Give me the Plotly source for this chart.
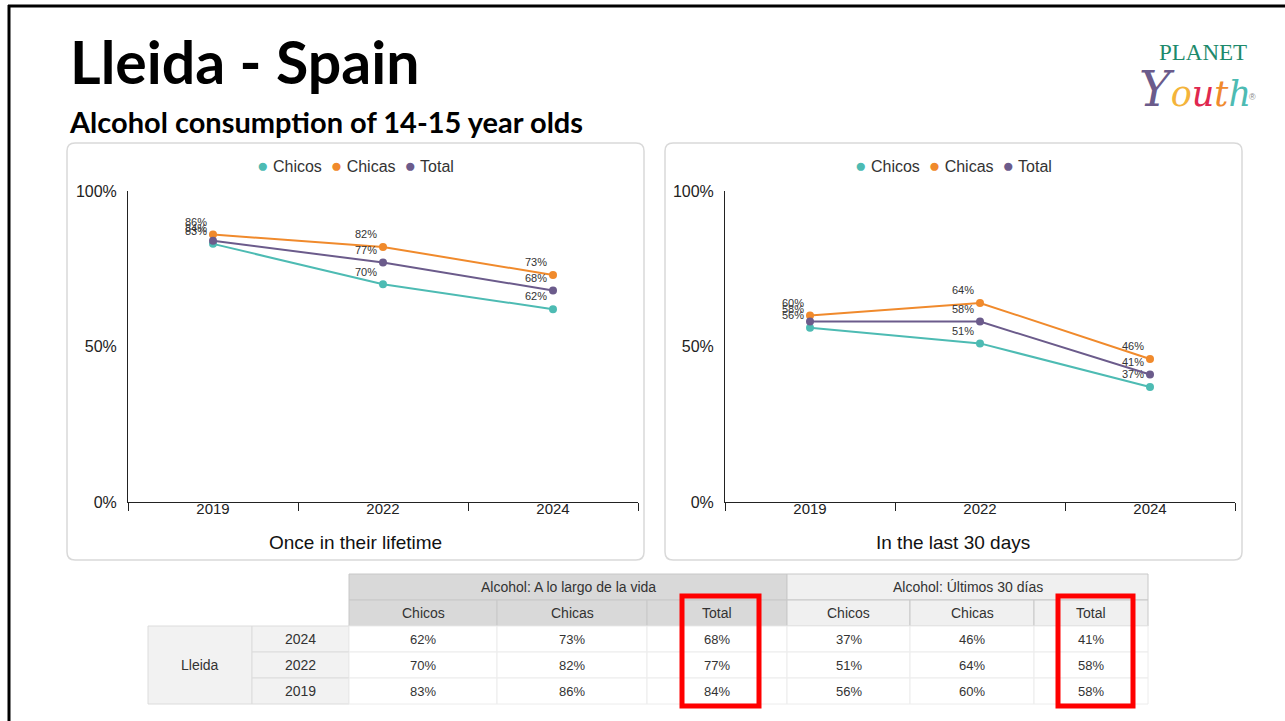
import plotly.graph_objects as go

# ---------------- data ----------------
years = ["2019", "2022", "2024"]
life_chicos = [83, 70, 62]
life_chicas = [86, 82, 73]
life_total = [84, 77, 68]
m30_chicos = [56, 51, 37]
m30_chicas = [60, 64, 46]
m30_total = [58, 58, 41]
series_names = ["Chicos", "Chicas", "Total"]
y_ticks = [0, 50, 100]
panel_titles = ["Once in their lifetime", "In the last 30 days"]
table_groups = ["Alcohol: A lo largo de la vida", "Alcohol: Últimos 30 días"]
table_region = "Lleida"
table_years = ["2024", "2022", "2019"]
title_text = "Lleida - Spain"
subtitle_text = "Alcohol consumption of 14-15 year olds"

# ---------------- styles ----------------
W, H = 1285, 721
COLORS = {"Chicos": "#4dbbb3", "Chicas": "#f08a2c", "Total": "#6b5b8b"}
FONT = "Liberation Sans, Arial, sans-serif"


def fx(px):
    return px / W


def fy(py):
    return 1 - py / H


fig = go.Figure()

panels = [
    dict(series=[life_chicos, life_chicas, life_total], xa="x", ya="y",
         box=(67, 644), center=355),
    dict(series=[m30_chicos, m30_chicas, m30_total], xa="x2", ya="y2",
         box=(665, 1242), center=953),
]

shapes = []
annotations = []


def rounded_box(x0, y0, x1, y1, r=8):
    p = (f"M {fx(x0 + r)},{fy(y0)} L {fx(x1 - r)},{fy(y0)} Q {fx(x1)},{fy(y0)} {fx(x1)},{fy(y0 + r)} "
         f"L {fx(x1)},{fy(y1 - r)} Q {fx(x1)},{fy(y1)} {fx(x1 - r)},{fy(y1)} "
         f"L {fx(x0 + r)},{fy(y1)} Q {fx(x0)},{fy(y1)} {fx(x0)},{fy(y1 - r)} "
         f"L {fx(x0)},{fy(y0 + r)} Q {fx(x0)},{fy(y0)} {fx(x0 + r)},{fy(y0)} Z")
    return dict(type="path", path=p, xref="paper", yref="paper",
                line=dict(color="#d9d9d9", width=1.5), fillcolor="white", layer="below")


legend_html = "&nbsp;&nbsp;".join(
    f"<span style='color:{COLORS[n]};font-size:19px'>●</span> {n}" for n in series_names)

for i, pn in enumerate(panels):
    for name, vals in zip(series_names, pn["series"]):
        fig.add_trace(go.Scatter(
            x=years, y=vals, mode="lines+markers+text", name=name,
            line=dict(color=COLORS[name], width=2),
            marker=dict(color=COLORS[name], size=8),
            text=[f"{v}%" for v in vals], textposition="top left",
            textfont=dict(family=FONT, size=11, color="#333"),
            xaxis=pn["xa"], yaxis=pn["ya"], showlegend=False, hoverinfo="skip"))
    shapes.append(rounded_box(pn["box"][0], 143, pn["box"][1], 560))
    annotations.append(dict(text=legend_html, x=fx(pn["center"]), y=fy(165),
                            xref="paper", yref="paper", xanchor="center", yanchor="middle",
                            showarrow=False, font=dict(family=FONT, size=16, color="#333")))
    annotations.append(dict(text=panel_titles[i], x=fx(pn["center"]), y=fy(542),
                            xref="paper", yref="paper", xanchor="center", yanchor="middle",
                            showarrow=False, font=dict(family=FONT, size=19, color="#111")))

axis_common_x = dict(type="category", range=[-0.5, 2.5], showline=True, linecolor="#222",
                     linewidth=1, ticks="outside", ticklen=8, tickcolor="#222",
                     tickson="boundaries", showgrid=False, zeroline=False, automargin=False,
                     tickfont=dict(family=FONT, size=15, color="#222"), ticklabelstandoff=-7,
                     fixedrange=True)
axis_common_y = dict(range=[0, 100], tickvals=y_ticks, ticktext=[f"{v}%" for v in y_ticks],
                     showline=True, linecolor="#222", linewidth=1, ticks="", showgrid=False,
                     zeroline=False, automargin=False,
                     tickfont=dict(family=FONT, size=16, color="#222"),
                     ticklabelstandoff=7, fixedrange=True)

fig.update_layout(
    xaxis=dict(domain=[fx(128), fx(638)], anchor="y", **axis_common_x),
    yaxis=dict(domain=[fy(502), fy(191)], anchor="x", **axis_common_y),
    xaxis2=dict(domain=[fx(725), fx(1235)], anchor="y2", **axis_common_x),
    yaxis2=dict(domain=[fy(502), fy(191)], anchor="x2", **axis_common_y),
    showlegend=False,
)

# ---------------- table ----------------
cols_x = [148, 252, 349, 497, 647, 787, 910, 1034, 1148]
rows_y = [574, 600, 626, 652, 678, 704]


def cell(x0, x1, y0, y1, fill, line, text, size=13):
    shapes.append(dict(type="rect", xref="paper", yref="paper", x0=fx(x0), x1=fx(x1),
                       y0=fy(y1), y1=fy(y0), fillcolor=fill, line=dict(color=line, width=1),
                       layer="below"))
    if text:
        annotations.append(dict(text=text, x=fx((x0 + x1) / 2), y=fy((y0 + y1) / 2),
                                xref="paper", yref="paper", xanchor="center",
                                yanchor="middle", showarrow=False,
                                font=dict(family=FONT, size=size, color="#333")))


group_fills = ["#d9d9d9", "#f0f0f0"]
group_cols = [(2, 5), (5, 8)]
group_data = [[life_chicos, life_chicas, life_total], [m30_chicos, m30_chicas, m30_total]]

for g, (c0, c1) in enumerate(group_cols):
    cell(cols_x[c0], cols_x[c1], rows_y[0], rows_y[1], group_fills[g], "#c8c8c8",
         table_groups[g], size=14)
    for k in range(3):
        cell(cols_x[c0 + k], cols_x[c0 + k + 1], rows_y[1], rows_y[2], group_fills[g],
             "#c8c8c8", series_names[k], size=14)

cell(cols_x[0], cols_x[1], rows_y[2], rows_y[5], "#f2f2f2", "#dcdcdc", table_region, size=14)
for r, yr in enumerate(table_years):
    cell(cols_x[1], cols_x[2], rows_y[2 + r], rows_y[3 + r], "#f2f2f2", "#dcdcdc", yr, size=14)
    idx = years.index(yr)
    for g, (c0, c1) in enumerate(group_cols):
        for k in range(3):
            cell(cols_x[c0 + k], cols_x[c0 + k + 1], rows_y[2 + r], rows_y[3 + r], "white",
                 "#ececec", f"{group_data[g][k][idx]}%")

# red highlight frames
for (x0, x1) in [(682, 759), (1058, 1133)]:
    shapes.append(dict(type="rect", xref="paper", yref="paper", x0=fx(x0), x1=fx(x1),
                       y0=fy(706), y1=fy(596), line=dict(color="#ff0000", width=5),
                       fillcolor="rgba(0,0,0,0)", layer="above"))

# slide border
shapes.append(dict(type="line", xref="paper", yref="paper", x0=fx(8), x1=1, y0=fy(6), y1=fy(6),
                   line=dict(color="black", width=3)))
shapes.append(dict(type="line", xref="paper", yref="paper", x0=fx(9), x1=fx(9), y0=fy(5), y1=0,
                   line=dict(color="black", width=3)))

# titles
annotations.append(dict(text=title_text, x=fx(68), y=fy(62), xref="paper", yref="paper",
                        xanchor="left", yanchor="middle", showarrow=False,
                        font=dict(family="Lato, Open Sans, sans-serif", size=59, color="black",
                                  weight=700)))
annotations.append(dict(text=subtitle_text, x=fx(67), y=fy(121), xref="paper", yref="paper",
                        xanchor="left", yanchor="middle", showarrow=False,
                        font=dict(family="Lato, Open Sans, sans-serif", size=29, color="black",
                                  weight=700)))

# logo
annotations.append(dict(text="PLANET", x=fx(1203), y=fy(53), xref="paper", yref="paper",
                        xanchor="center", yanchor="middle", showarrow=False,
                        font=dict(family="Liberation Serif, serif", size=23, color="#1e8a6c")))
youth = ("<span style='color:#6b5b8b;font-size:48px'>Y</span><span style='color:#f4b43a'>o</span>"
         "<span style='color:#e0284f'>u</span><span style='color:#f08a2c'>t</span>"
         "<span style='color:#4dbbb3'>h</span>")
annotations.append(dict(text=youth, x=fx(1195), y=fy(89), xref="paper", yref="paper",
                        xanchor="center", yanchor="middle", showarrow=False,
                        font=dict(family="DejaVu Serif, serif", size=35, style="italic")))
annotations.append(dict(text="®", x=fx(1252), y=fy(97), xref="paper", yref="paper",
                        xanchor="center", yanchor="middle", showarrow=False,
                        font=dict(family=FONT, size=9, color="#888")))

fig.update_layout(width=W, height=H, autosize=False,
                  margin=dict(l=0, r=0, t=0, b=0, pad=0, autoexpand=False),
                  paper_bgcolor="white", plot_bgcolor="rgba(0,0,0,0)",
                  shapes=shapes, annotations=annotations)

post = ("document.documentElement.style.margin='0';document.body.style.margin='0';"
        "document.body.style.padding='0';document.body.style.overflow='hidden';"
        "var g=document.getElementById('{plot_id}');"
        "g.style.position='absolute';g.style.left='0px';g.style.top='0px';")
fig.write_html("out.html", config={"displayModeBar": False}, post_script=post)
